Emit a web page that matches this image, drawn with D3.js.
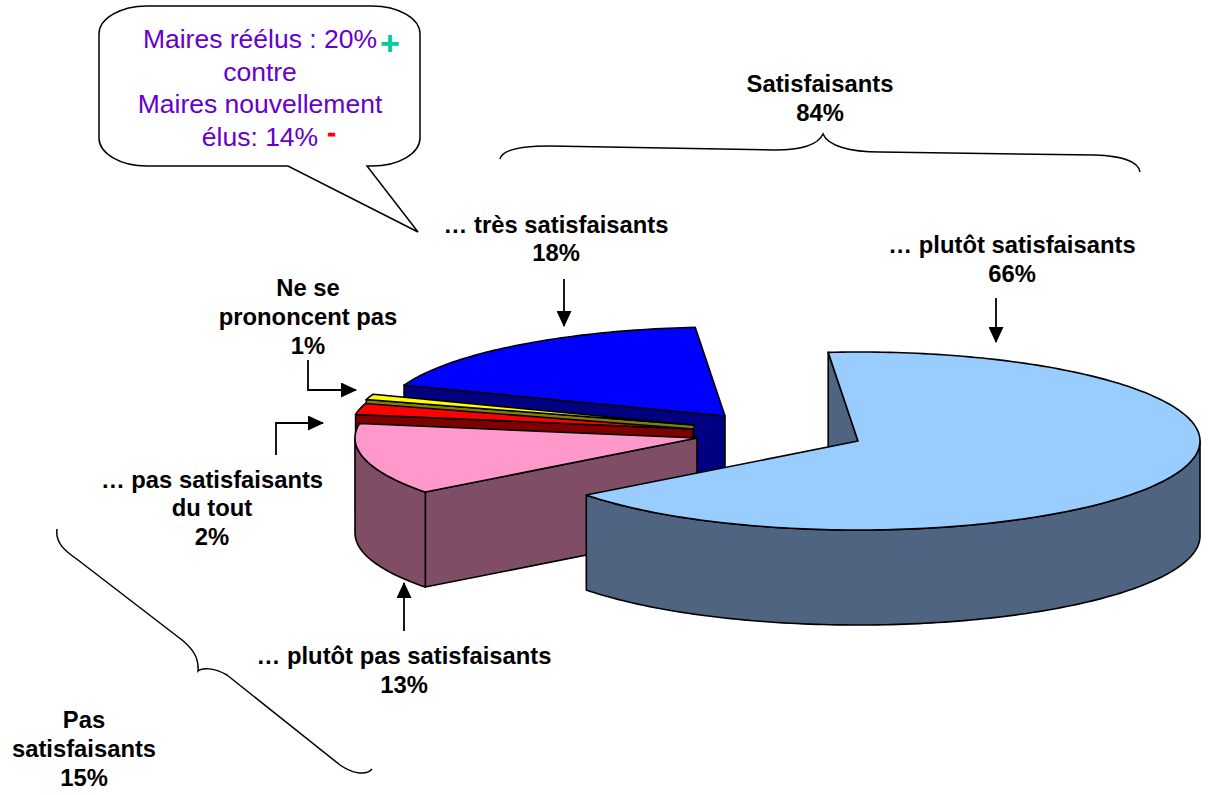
<!DOCTYPE html>
<html><head><meta charset="utf-8">
<style>html,body{margin:0;padding:0;background:#fff}svg{display:block}</style>
<script src="https://cdnjs.cloudflare.com/ajax/libs/d3/7.8.5/d3.min.js"></script>
</head><body><svg id="c" width="1214" height="795"></svg>
<script>
// Data, clockwise from the start angle
const categories = ["… plutôt satisfaisants","… plutôt pas satisfaisants","… pas satisfaisants du tout","Ne se prononcent pas","… très satisfaisants"];
const values = [66, 13, 2, 1, 18];
const topColors = ["#99CCFF","#FF99CC","#FF0000","#FFFF00","#0000FF"];
const sideColors = ["#4F6480","#804D66","#800000","#808000","#000080"];
// Layout: exploded apex of each slice, back-to-front draw order
const apexes = [[858,441],[697,438],[693,429],[694,425],[725,416]];
const drawOrder = [4,3,2,1,0];
const RX = 342, RY = 89, DEPTH = 95, START = -5;

const labelLines = [
  {x:820,y:92,t:"Satisfaisants"},{x:820,y:121,t:"84%"},
  {x:556,y:233,t:"… très satisfaisants"},{x:556,y:261,t:"18%"},
  {x:1012,y:253,t:"… plutôt satisfaisants"},{x:1012,y:282,t:"66%"},
  {x:308,y:296,t:"Ne se"},{x:308,y:325,t:"prononcent pas"},{x:308,y:354,t:"1%"},
  {x:212,y:488,t:"… pas satisfaisants"},{x:212,y:516,t:"du tout"},{x:212,y:545,t:"2%"},
  {x:404,y:664,t:"… plutôt pas satisfaisants"},{x:404,y:693,t:"13%"},
  {x:84,y:728,t:"Pas"},{x:84,y:757,t:"satisfaisants"},{x:84,y:786,t:"15%"}
];
const calloutLines = [
  {x:260,y:48,t:"Maires réélus : 20%"},{x:260,y:81,t:"contre"},
  {x:260,y:113,t:"Maires nouvellement"},{x:260,y:146,t:"élus: 14%"}
];
const arrows = [
  [[564,279],[564,326]],
  [[996,298],[996,342]],
  [[308,360],[308,390],[356,390]],
  [[276,455],[276,423],[323,423]],
  [[404,631],[404,583]]
];

const svg = d3.select("#c");
const FONT = "'Liberation Sans',Arial,sans-serif";
const defs = svg.append("defs");
defs.append("marker").attr("id","ah").attr("viewBox","0 0 16 15").attr("refX",15).attr("refY",7.5)
  .attr("markerUnits","userSpaceOnUse").attr("markerWidth",16).attr("markerHeight",15).attr("orient","auto")
  .append("path").attr("d","M0,0L16,7.5L0,15Z").attr("fill","#000");

const arcs = d3.pie().sort(null).value(d=>d)
  .startAngle(START*Math.PI/180).endAngle((START+360)*Math.PI/180)(values);

const line = d3.line();
const rim = (a,ang,dy=0)=>[a[0]+RX*Math.sin(ang), a[1]-RY*Math.cos(ang)+dy];
const sample = (a,s,e,dy=0)=>{
  const n = Math.max(2,Math.ceil(Math.abs(e-s)/0.02));
  return d3.range(n+1).map(i=>rim(a,s+(e-s)*i/n,dy));
};
const g = svg.append("g").attr("stroke","#000").attr("stroke-width",1.6).attr("stroke-linejoin","round");

drawOrder.forEach(i=>{
  const d = arcs[i], a = apexes[i], s = d.startAngle, e = d.endAngle;
  const low = [a[0],a[1]+DEPTH];
  const face = ang => [a, rim(a,ang), rim(a,ang,DEPTH), low];
  // radial faces turned towards the viewer
  if (Math.cos(s-Math.PI/2) < 0) g.append("path").attr("d",line(face(s))+"Z").attr("fill",sideColors[i]);
  if (Math.cos(e+Math.PI/2) < 0) g.append("path").attr("d",line(face(e))+"Z").attr("fill",sideColors[i]);
  // front part of the rim wall: PI/2 .. 3PI/2
  const fs = Math.max(s,Math.PI/2), fe = Math.min(e,3*Math.PI/2);
  if (fe > fs) {
    const pts = sample(a,fs,fe).concat(sample(a,fe,fs,DEPTH));
    g.append("path").attr("d",line(pts)+"Z").attr("fill",sideColors[i]);
  }
  g.append("path").attr("d",line([a].concat(sample(a,s,e)))+"Z").attr("fill",topColors[i]);
});

// Arrows
svg.append("g").selectAll("path").data(arrows).join("path")
  .attr("d",d=>line(d)).attr("fill","none").attr("stroke","#000").attr("stroke-width",1.8)
  .attr("marker-end","url(#ah)");

// Braces
const braces = ["M500,159C502,150 520,146 550,146L775,150C800,150 818,145 823,134C828,146 850,152 880,152L1095,155C1120,156 1138,160 1140,172",
  "M57,529C55,543 65,551 78,560L182,640C193,649 199,658 198,671C202,667 215,668 227,675L340,765C350,772 365,777 372,769"];
svg.append("g").selectAll("path").data(braces).join("path").attr("d",d=>d)
  .attr("fill","none").attr("stroke","#000").attr("stroke-width",1.5);

// Callout
svg.append("path").attr("d","M148,6H372A48,28 0 0 1 420,34V138A48,28 0 0 1 372,166H367L418,232L288,166H147A48,28 0 0 1 99,138V34A48,28 0 0 1 147,6Z")
  .attr("fill","#fff").attr("stroke","#000").attr("stroke-width",1.5);
svg.append("g").selectAll("text").data(calloutLines).join("text")
  .attr("x",d=>d.x).attr("y",d=>d.y).attr("text-anchor","middle").text(d=>d.t)
  .attr("font-family",FONT).attr("font-size",26.5).attr("fill","#6600CC");
svg.append("text").attr("x",390).attr("y",55).attr("text-anchor","middle").text("+")
  .attr("font-family",FONT).attr("font-size",34).attr("font-weight","bold").attr("fill","#00CC99");
svg.append("text").attr("x",331.5).attr("y",141).attr("text-anchor","middle").text("-")
  .attr("font-family",FONT).attr("font-size",24.5).attr("font-weight","bold").attr("fill","#FF0000")
  .attr("stroke","#FF0000").attr("stroke-width",1);

// Labels
svg.append("g").selectAll("text").data(labelLines).join("text")
  .attr("x",d=>d.x).attr("y",d=>d.y).attr("text-anchor","middle").text(d=>d.t)
  .attr("font-family",FONT).attr("font-size",23.8).attr("font-weight","bold").attr("fill","#000");
</script></body></html>
